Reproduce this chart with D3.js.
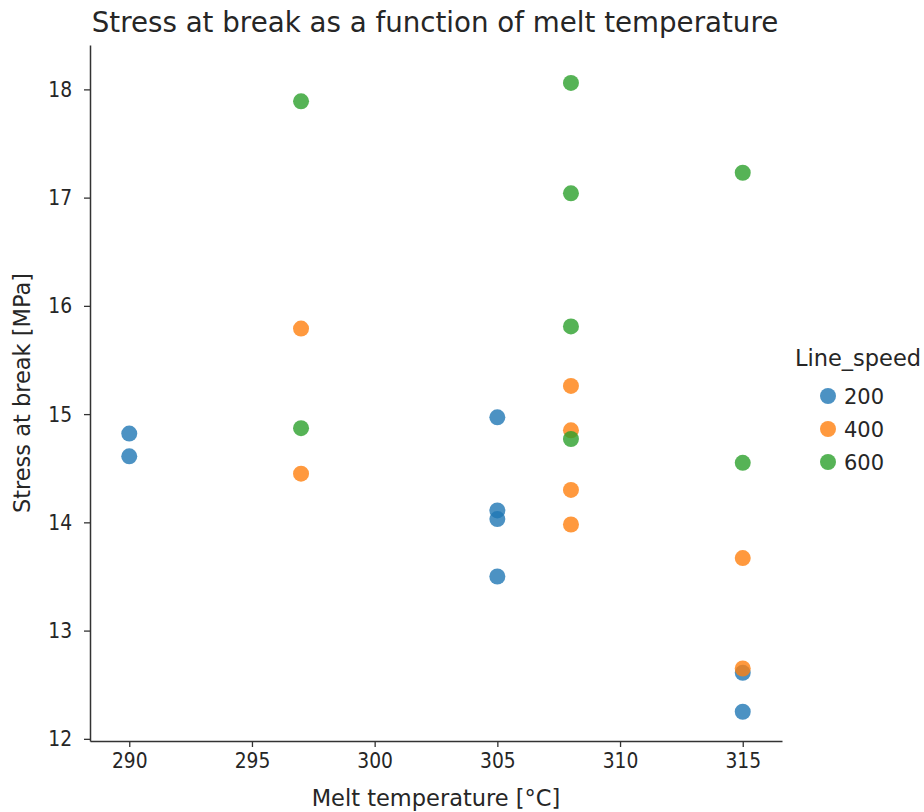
<!DOCTYPE html>
<html>
<head>
<meta charset="utf-8">
<script src="https://cdn.jsdelivr.net/npm/d3@7"></script>
<style>
  html, body { margin: 0; padding: 0; background: #fff; }
  svg { display: block; font-family: "DejaVu Sans", sans-serif; }
</style>
</head>
<body>
<svg id="chart" width="924" height="812"></svg>
<script>
// Stress at break vs melt temperature, grouped by line speed
const lineSpeeds = ["200", "400", "600"];
const speedColors = ["#1f77b4", "#ff7f0e", "#2ca02c"];

const temp200 = [290, 290, 305, 305, 305, 305, 315, 315];
const stress200 = [14.82, 14.61, 14.97, 14.11, 14.03, 13.50, 12.61, 12.25];

const temp400 = [297, 297, 308, 308, 308, 308, 315, 315];
const stress400 = [15.79, 14.45, 15.26, 14.85, 14.30, 13.98, 13.67, 12.65];

const temp600 = [297, 297, 308, 308, 308, 308, 315, 315];
const stress600 = [17.89, 14.87, 18.06, 17.04, 15.81, 14.77, 17.23, 14.55];

const xTicks = [290, 295, 300, 305, 310, 315];
const yTicks = [12, 13, 14, 15, 16, 17, 18];
const xDomain = [288.4, 316.6];
const yDomain = [11.98, 18.41];

const groups = [
  { speed: lineSpeeds[0], temps: temp200, stress: stress200, color: speedColors[0] },
  { speed: lineSpeeds[1], temps: temp400, stress: stress400, color: speedColors[1] },
  { speed: lineSpeeds[2], temps: temp600, stress: stress600, color: speedColors[2] }
];

const svg = d3.select("#chart");
const plot = { left: 90, right: 782, top: 45, bottom: 741 };
const textColor = "#262626";
const spineColor = "#333333";

const x = d3.scaleLinear().domain(xDomain).range([plot.left, plot.right]);
const y = d3.scaleLinear().domain(yDomain).range([plot.bottom, plot.top]);

// points, one layer per line speed
groups.forEach(g => {
  svg.append("g")
    .selectAll("circle")
    .data(g.temps.map((t, i) => ({ t, s: g.stress[i] })))
    .join("circle")
    .attr("cx", d => x(d.t))
    .attr("cy", d => y(d.s))
    .attr("r", 8)
    .attr("fill", g.color)
    .attr("fill-opacity", 0.8);
});

// axes
const xAxis = svg.append("g")
  .attr("transform", `translate(0,${plot.bottom})`)
  .call(d3.axisBottom(x).tickValues(xTicks).tickFormat(d3.format("d")).tickSize(6).tickPadding(5).tickSizeOuter(0));
const yAxis = svg.append("g")
  .attr("transform", `translate(${plot.left},0)`)
  .call(d3.axisLeft(y).tickValues(yTicks).tickFormat(d3.format("d")).tickSize(6).tickPadding(15).tickSizeOuter(0));

[xAxis, yAxis].forEach(ax => {
  ax.select(".domain").attr("stroke", spineColor).attr("stroke-width", 1.5);
  ax.selectAll(".tick line").attr("stroke", spineColor).attr("stroke-width", 1.3);
  ax.selectAll(".tick text")
    .attr("fill", textColor)
    .style("font-family", "DejaVu Sans, sans-serif")
    .style("font-size", "22px")
    .attr("transform", "scale(0.85,1)");
});

// title and axis labels
svg.append("text")
  .attr("x", 435)
  .attr("y", 32)
  .attr("text-anchor", "middle")
  .attr("fill", textColor)
  .style("font-size", "27.7px")
  .text("Stress at break as a function of melt temperature");

svg.append("text")
  .attr("x", 436)
  .attr("y", 806)
  .attr("text-anchor", "middle")
  .attr("fill", textColor)
  .style("font-size", "22.5px")
  .text("Melt temperature [°C]");

svg.append("text")
  .attr("transform", `translate(30,${(plot.top + plot.bottom) / 2}) rotate(-90)`)
  .attr("text-anchor", "middle")
  .attr("fill", textColor)
  .style("font-size", "22.5px")
  .text("Stress at break [MPa]");

// legend
const legend = svg.append("g");
legend.append("text")
  .attr("x", 858)
  .attr("y", 366)
  .attr("text-anchor", "middle")
  .attr("fill", textColor)
  .style("font-size", "22.5px")
  .text("Line_speed");

const rows = legend.selectAll("g.row")
  .data(groups)
  .join("g")
  .attr("class", "row")
  .attr("transform", (d, i) => `translate(0,${396 + i * 33})`);
rows.append("circle")
  .attr("cx", 828)
  .attr("cy", 0)
  .attr("r", 8)
  .attr("fill", d => d.color)
  .attr("fill-opacity", 0.8);
rows.append("text")
  .attr("x", 844)
  .attr("y", 8)
  .attr("fill", textColor)
  .style("font-size", "21px")
  .text(d => d.speed);
</script>
</body>
</html>
